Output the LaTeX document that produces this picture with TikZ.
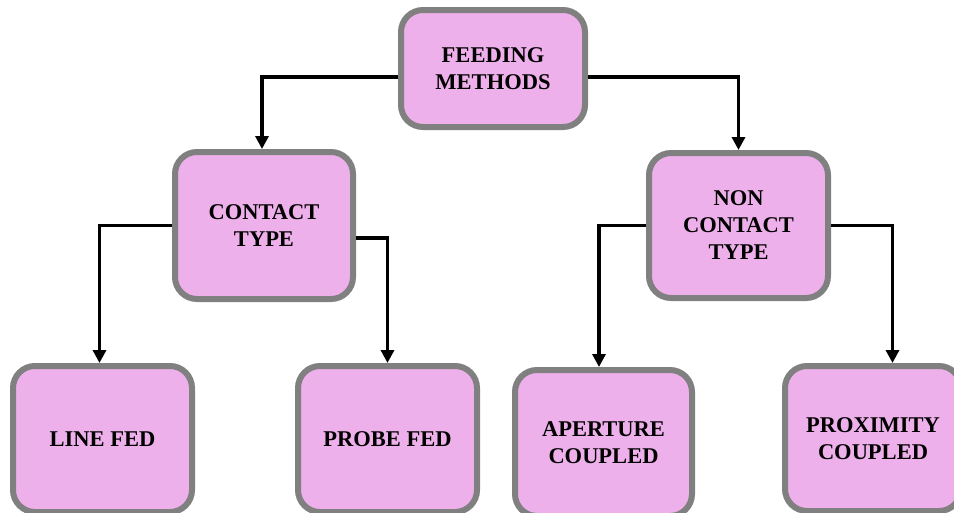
\documentclass[tikz,border=0pt]{standalone}
\usepackage{fontspec}
\setmainfont{Liberation Serif}
\usetikzlibrary{arrows.meta,calc}
\definecolor{boxfill}{RGB}{238,176,234}
\definecolor{boxline}{RGB}{128,128,128}
\tikzset{
  fbox/.style={draw=boxline, line width=6pt, fill=boxfill, rounded corners=22pt,
    align=center, inner sep=0pt, font=\fontsize{22.5}{27}\selectfont\bfseries},
  conn/.style={line width=3.5pt, draw=black, -{Triangle[length=13pt,width=13pt]}},
}
\begin{document}
\begin{tikzpicture}[x=1pt,y=-1pt]
\clip (0,0) rectangle (954,512);
\fill[white] (0,0) rectangle (954,512);
\node[fbox, minimum width=184pt, minimum height=117pt] (fm) at (493,68.5) {FEEDING\\METHODS};
\node[fbox, minimum width=178pt, minimum height=147pt] (ct) at (264,225.5) {CONTACT\\TYPE};
\node[fbox, minimum width=179pt, minimum height=145pt] (nct) at (738.5,225.5) {NON\\CONTACT\\TYPE};
\node[fbox, minimum width=179pt, minimum height=146pt] (lf) at (102.5,439) {LINE FED};
\node[fbox, minimum width=179pt, minimum height=146pt] (pf) at (387.5,439) {PROBE FED};
\node[fbox, minimum width=177pt, minimum height=146pt] (ac) at (603.5,443) {APERTURE\\COUPLED};
\node[fbox, minimum width=176pt, minimum height=145pt] (pc) at (873,438.5) {PROXIMITY\\COUPLED};
\draw[conn] ($(fm.west)+(0,8.5)$) -| ([xshift=-2pt]ct.north);
\draw[conn] ($(fm.east)+(0,8.5)$) -| (nct.north);
\draw[conn] (ct.west) -| ([xshift=-3pt]lf.north);
\draw[conn] ($(ct.east)+(0,12.5)$) -| (pf.north);
\draw[conn] (nct.west) -| ([xshift=-4.5pt]ac.north);
\draw[conn] (nct.east) -| ([xshift=19.5pt]pc.north);
\end{tikzpicture}
\end{document}
